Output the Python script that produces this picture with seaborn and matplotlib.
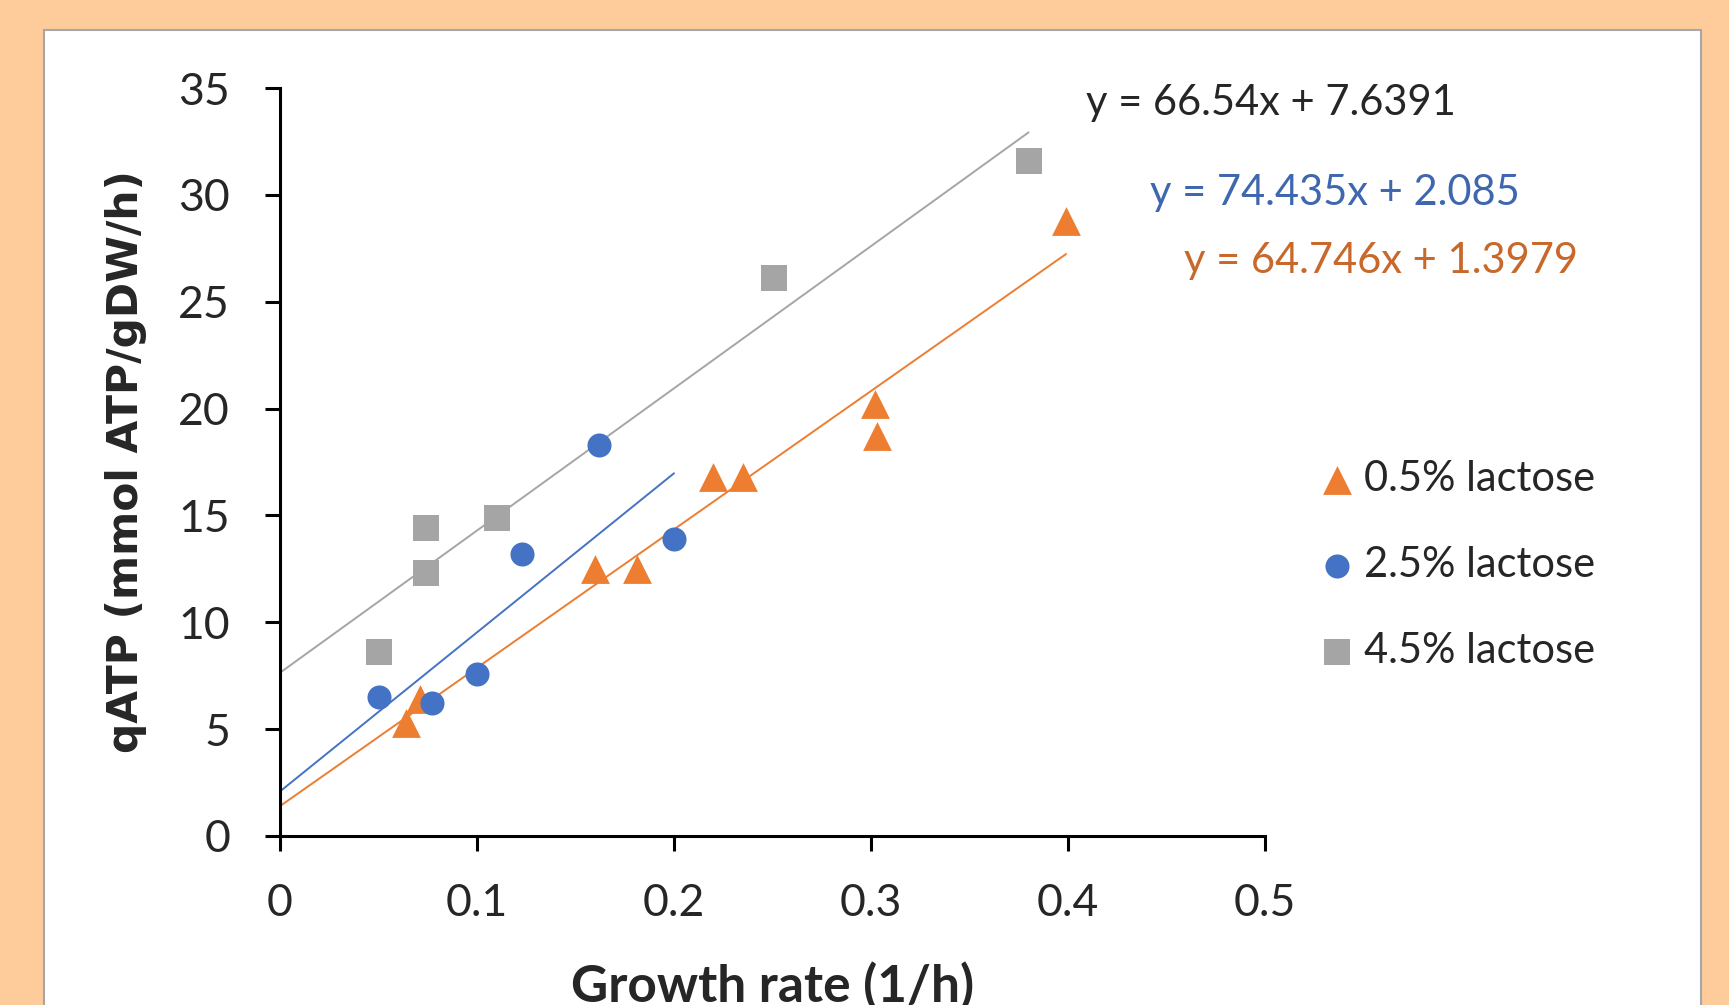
import matplotlib
matplotlib.use("Agg")
import matplotlib.pyplot as plt
from matplotlib.patches import Rectangle
import numpy as np
import pandas as pd
import seaborn as sns

# growth rate (1/h) and qATP (mmol ATP/gDW/h) per lactose level
lac05_x = [0.064, 0.071, 0.160, 0.181, 0.220, 0.235, 0.302, 0.303, 0.399]
lac05_y = [5.3, 6.4, 12.5, 12.5, 16.8, 16.8, 20.2, 18.7, 28.8]
lac25_x = [0.050, 0.077, 0.100, 0.123, 0.162, 0.200]
lac25_y = [6.5, 6.2, 7.6, 13.2, 18.3, 13.9]
lac45_x = [0.050, 0.074, 0.074, 0.110, 0.251, 0.380]
lac45_y = [8.6, 14.4, 12.3, 14.9, 26.1, 31.6]

groups = ["0.5% lactose", "2.5% lactose", "4.5% lactose"]
slopes = [64.746, 74.435, 66.54]
intercepts = [1.3979, 2.085, 7.6391]
eq_labels = ["y = 64.746x + 1.3979", "y = 74.435x + 2.085", "y = 66.54x + 7.6391"]

colors = {"0.5% lactose": "#ED7D31", "2.5% lactose": "#4472C4", "4.5% lactose": "#A5A5A5"}
text_colors = ["#C8682A", "#3F67AE", "#262626"]
markers = {"0.5% lactose": "^", "2.5% lactose": "o", "4.5% lactose": "s"}
msizes = {"0.5% lactose": 430, "2.5% lactose": 300, "4.5% lactose": 340}

df = pd.DataFrame({
    "x": lac05_x + lac25_x + lac45_x,
    "y": lac05_y + lac25_y + lac45_y,
    "group": [groups[0]] * len(lac05_x) + [groups[1]] * len(lac25_x) + [groups[2]] * len(lac45_x),
})

sns.set_style("white")
plt.rcParams["font.family"] = ["Lato", "DejaVu Sans"]

fig = plt.figure(figsize=(17.29, 10.05), dpi=100)
fig.patch.set_facecolor("#FECB9B")
panel = Rectangle((44 / 1729, -0.05), (1701 - 44) / 1729, 1.05 - 30 / 1005,
                  transform=fig.transFigure, facecolor="white",
                  edgecolor="#A6A6A6", linewidth=1.5, zorder=-10)
fig.add_artist(panel)

ax = fig.add_axes([280 / 1729, 1 - 836 / 1005, 985 / 1729, 748 / 1005])
ax.set_facecolor("none")

# trendlines
for g, m, b in zip(groups, slopes, intercepts):
    xmax = df.loc[df.group == g, "x"].max()
    xs = np.array([0, xmax])
    ax.plot(xs, m * xs + b, color=colors[g], lw=1.4, zorder=2)

for g in [groups[2], groups[0], groups[1]]:
    sns.scatterplot(data=df[df.group == g], x="x", y="y", color=colors[g],
                    marker=markers[g], s=msizes[g], linewidth=0, ax=ax,
                    label=g, zorder=3)

# equation labels
eq_pos = [(0.459, 26.9), (0.4416, 30.1), (0.409, 34.3)]
for (ex, ey), lab, c in zip(eq_pos, eq_labels, text_colors):
    ax.text(ex, ey, lab, color=c, fontsize=30, va="center", ha="left", clip_on=False)

ax.set_xlim(0, 0.5)
ax.set_ylim(0, 35)
ax.set_xticks([0, 0.1, 0.2, 0.3, 0.4, 0.5])
ax.set_xticklabels(["0", "0.1", "0.2", "0.3", "0.4", "0.5"])
ax.set_yticks(range(0, 36, 5))
for s in ["top", "right"]:
    ax.spines[s].set_visible(False)
for s in ["left", "bottom"]:
    ax.spines[s].set_color("black")
    ax.spines[s].set_linewidth(2.2)
ax.tick_params(axis="both", direction="out", length=11, width=2.2, color="black",
               labelsize=32, labelcolor="#262626", bottom=True, left=True)
ax.tick_params(axis="y", pad=25)
ax.tick_params(axis="x", pad=23)

ax.set_xlabel("Growth rate (1/h)", fontsize=37, fontweight="bold")
ax.set_ylabel("qATP (mmol ATP/gDW/h)", fontsize=30.5, fontweight="bold", family="DejaVu Sans")
ax.xaxis.set_label_coords(0.5, -0.168)
ax.yaxis.set_label_coords(-0.135, 0.5)

# legend order: triangle, circle, square
handles, labels = ax.get_legend_handles_labels()
order = [labels.index(g) for g in groups]
leg = ax.legend([handles[i] for i in order], [labels[i] for i in order],
                loc="center left", bbox_to_anchor=(1291 / 1729, 1 - 565 / 1005),
                bbox_transform=fig.transFigure, frameon=False, fontsize=30,
                handletextpad=0.05, labelspacing=1.15, markerscale=1.0,
                borderpad=0, handlelength=1.2)
for t in leg.get_texts():
    t.set_color("#262626")

fig.savefig("out.png", dpi=100, facecolor=fig.get_facecolor())
